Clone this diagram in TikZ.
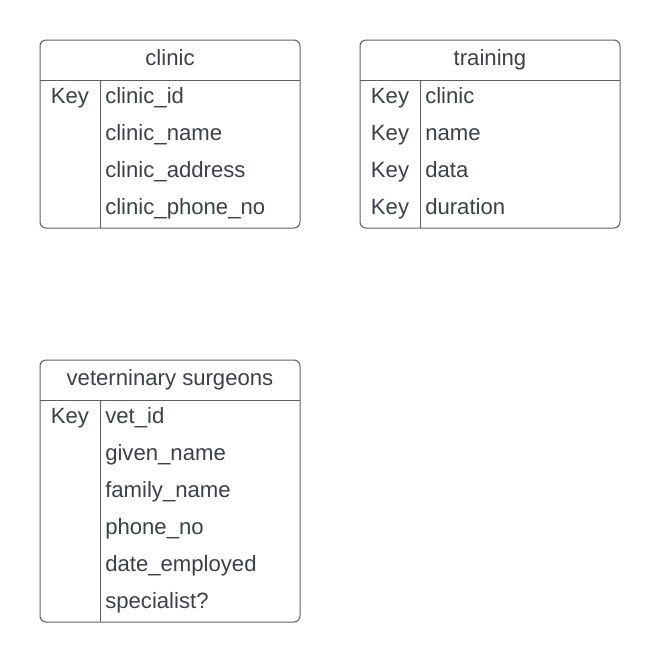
\documentclass[tikz,border=0pt]{standalone}
\usepackage{fontspec}
\setmainfont{Liberation Sans}
\definecolor{inkgray}{HTML}{3A414A}
\definecolor{linegray}{HTML}{5A5F66}
\begin{document}
\begin{tikzpicture}[x=0.75pt,y=-0.75pt,
   tablebox/.style={draw=linegray,line width=0.75pt,rounded corners=4.5pt},
   rule/.style={draw=linegray,line width=0.75pt},
   txt/.style={inner sep=0pt,text=inkgray,font=\fontsize{16.6}{19}\selectfont},
   title/.style={txt,anchor=base},
   keytxt/.style={txt,anchor=base},
   field/.style={txt,anchor=base west}]
   \useasboundingbox (0,0) rectangle (660,662);
   %
   % clinic
   \draw[tablebox] (40,40) rectangle (300,228);
   \draw[rule] (40,80) -- (300,80) (100,80) -- (100,228);
   \node[title] (clinic) at (170,65) {clinic};
   \node[keytxt] (clinickey) at (70,103) {Key};
   \foreach \f [count=\i] in {clinic\_id,clinic\_name,clinic\_address,clinic\_phone\_no}
      \node[field] (clinic\i) at (105,{103+37*(\i-1)}) {\f};
   %
   % training
   \draw[tablebox] (360,40) rectangle (620,228);
   \draw[rule] (360,80) -- (620,80) (420,80) -- (420,228);
   \node[title] (training) at (490,65) {training};
   \foreach \f [count=\i] in {clinic,name,data,duration}{
      \node[keytxt] (trainingkey\i) at (390,{103+37*(\i-1)}) {Key};
      \node[field] (training\i) at (425,{103+37*(\i-1)}) {\f};
   }
   %
   % veterninary surgeons
   \draw[tablebox] (40,360) rectangle (300,622);
   \draw[rule] (40,400) -- (300,400) (100,400) -- (100,622);
   \node[title] (vet) at (170,385) {veterninary surgeons};
   \node[keytxt] (vetkey) at (70,423) {Key};
   \foreach \f [count=\i] in {vet\_id,given\_name,family\_name,phone\_no,date\_employed,specialist?}
      \node[field] (vet\i) at (105,{423+37*(\i-1)}) {\f};
\end{tikzpicture}
\end{document}
